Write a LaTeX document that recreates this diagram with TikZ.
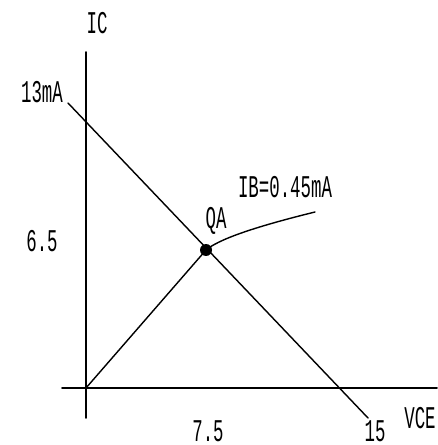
\documentclass[tikz,border=0pt]{standalone}
\usepackage{fontspec}
\setmainfont[FakeStretch=0.55]{Liberation Mono}

\begin{document}
\begin{tikzpicture}[x=0.02cm,y=-0.02cm,line cap=round,line join=round]
        \tikzset{lbl/.style={inner sep=0pt,font=\fontsize{18}{21}\selectfont}}
        \useasboundingbox (0,0) rectangle (437,445);
        % Ejes
        \coordinate (yTop) at (86,52);
        \coordinate (yBot) at (86,418);
        \coordinate (xLeft) at (62,388);
        \coordinate (xRight) at (437,388);
        \coordinate (O) at (86,388);
        \draw[line width=1.1pt] (yTop) -- (yBot);
        \draw[line width=1.1pt] (xLeft) -- (xRight);
        \node[lbl] (ic) at (97,23) {IC};
        \node[lbl,anchor=east] (vce) at (436,418) {VCE};

        % Recta de carga
        \coordinate (cargaA) at (68,103);
        \coordinate (cargaB) at (368,418);
        \draw[line width=0.8pt] (cargaA) -- (cargaB);
        \node[lbl] (icmax) at (42,92) {13mA};
        \node[lbl,anchor=south] (vcemax) at (375,442) {15};

        % Punto Q
        \node[circle,fill,inner sep=0pt,minimum size=0.24cm] (Q) at (206,250) {};
        \node[lbl] (qa) at (216,221) {QA};
        \node[lbl] (icq) at (42,241) {6.5};
        \node[lbl,anchor=south] (vceq) at (208,442) {7.5};
        \draw[line width=0.8pt] (O) -- (Q.center);

        % Curva IB
        \coordinate (ibEnd) at (315,212);
        \draw[line width=0.8pt] (Q.center) .. controls (218,240) and (250,228) .. (ibEnd);
        \node[lbl] (ib) at (285,187) {IB=0.45mA};
    \end{tikzpicture}
\end{document}
